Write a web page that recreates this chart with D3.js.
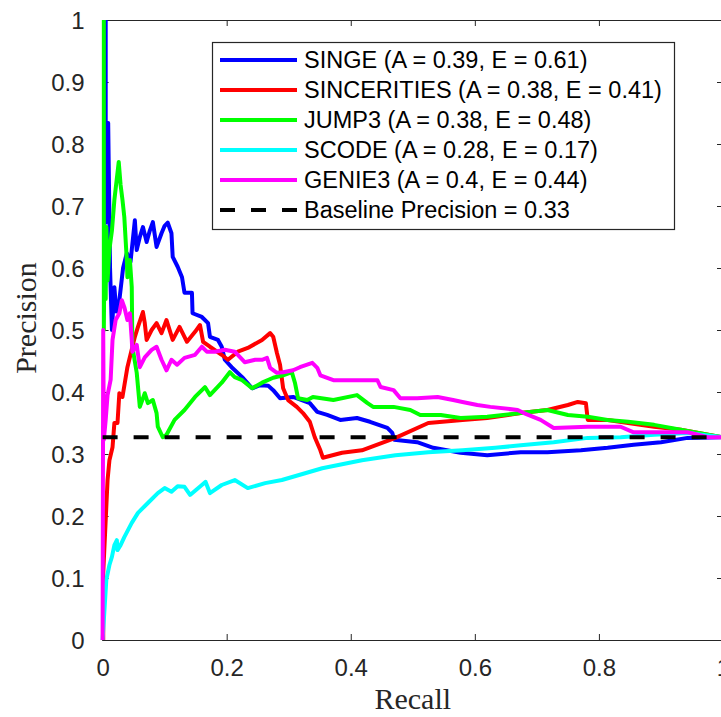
<!DOCTYPE html>
<html>
<head>
<meta charset="utf-8">
<script src="https://cdn.jsdelivr.net/npm/d3@7"></script>
<style>
  body { margin: 0; background: #fff; }
  svg { display: block; }
</style>
</head>
<body>
<div id="chart"></div>
<script>
// precision-recall points, [recall, precision]
var singe = [[0.005,1.0],[0.005,0.673],[0.009,0.834],[0.012,0.6],[0.015,0.5],[0.019,0.569],[0.022,0.53],[0.027,0.548],
  [0.033,0.6],[0.039,0.624],[0.045,0.61],[0.052,0.677],[0.055,0.629],[0.06,0.65],[0.065,0.666],[0.071,0.642],[0.076,0.66],
  [0.081,0.674],[0.087,0.634],[0.095,0.656],[0.1,0.668],[0.105,0.673],[0.111,0.656],[0.113,0.618],[0.121,0.602],
  [0.128,0.585],[0.132,0.56],[0.144,0.56],[0.145,0.527],[0.16,0.521],[0.17,0.511],[0.173,0.489],[0.186,0.484],
  [0.192,0.473],[0.197,0.452],[0.208,0.44],[0.225,0.424],[0.241,0.406],[0.254,0.411],[0.267,0.41],[0.275,0.403],
  [0.286,0.39],[0.307,0.392],[0.334,0.382],[0.346,0.368],[0.362,0.363],[0.383,0.355],[0.41,0.358],[0.431,0.352],
  [0.459,0.342],[0.467,0.334],[0.47,0.323],[0.507,0.319],[0.533,0.31],[0.577,0.302],[0.62,0.298],[0.674,0.303],
  [0.717,0.303],[0.771,0.306],[0.814,0.31],[0.856,0.315],[0.9,0.319],[0.943,0.326],[1.0,0.327]];

var sincerities = [[0.001,0.0],[0.001,0.108],[0.008,0.258],[0.011,0.29],[0.016,0.311],[0.019,0.35],[0.024,0.35],
  [0.027,0.398],[0.032,0.392],[0.04,0.44],[0.052,0.489],[0.057,0.505],[0.065,0.529],[0.068,0.511],[0.071,0.484],
  [0.079,0.5],[0.087,0.511],[0.095,0.495],[0.103,0.516],[0.113,0.484],[0.124,0.505],[0.136,0.481],[0.149,0.497],
  [0.157,0.508],[0.162,0.481],[0.173,0.473],[0.192,0.46],[0.202,0.452],[0.218,0.465],[0.234,0.471],[0.257,0.484],
  [0.27,0.495],[0.275,0.489],[0.281,0.463],[0.286,0.444],[0.291,0.406],[0.299,0.387],[0.313,0.376],[0.323,0.366],
  [0.334,0.352],[0.342,0.327],[0.351,0.306],[0.355,0.294],[0.386,0.302],[0.418,0.306],[0.472,0.326],[0.525,0.35],
  [0.58,0.355],[0.62,0.358],[0.674,0.366],[0.717,0.371],[0.75,0.379],[0.766,0.384],[0.779,0.382],[0.782,0.355],
  [0.814,0.355],[0.847,0.35],[0.889,0.344],[0.932,0.339],[0.976,0.331],[1.0,0.327]];

var jump3 = [[0.002,1.0],[0.002,0.5],[0.003,0.63],[0.005,0.55],[0.006,0.666],[0.008,0.58],[0.011,0.63],[0.015,0.66],
  [0.019,0.71],[0.026,0.771],[0.029,0.734],[0.032,0.71],[0.035,0.682],[0.039,0.613],[0.04,0.585],[0.044,0.613],
  [0.047,0.569],[0.048,0.473],[0.055,0.431],[0.06,0.376],[0.068,0.398],[0.073,0.382],[0.081,0.387],[0.087,0.366],
  [0.089,0.344],[0.097,0.327],[0.103,0.331],[0.116,0.355],[0.132,0.371],[0.149,0.392],[0.165,0.408],[0.173,0.395],
  [0.192,0.415],[0.205,0.432],[0.213,0.424],[0.225,0.419],[0.241,0.406],[0.257,0.415],[0.275,0.423],[0.291,0.427],
  [0.305,0.432],[0.31,0.415],[0.315,0.39],[0.33,0.387],[0.339,0.392],[0.372,0.387],[0.41,0.395],[0.427,0.382],
  [0.436,0.376],[0.469,0.376],[0.496,0.371],[0.512,0.363],[0.545,0.363],[0.577,0.358],[0.62,0.36],[0.674,0.366],
  [0.717,0.371],[0.75,0.363],[0.782,0.36],[0.814,0.355],[0.847,0.352],[0.889,0.347],[0.932,0.339],[0.976,0.331],
  [1.0,0.327]];

var scode = [[0.0,0.0],[0.003,0.048],[0.006,0.097],[0.011,0.121],[0.015,0.134],[0.019,0.153],[0.023,0.161],
  [0.024,0.145],[0.029,0.153],[0.035,0.166],[0.047,0.189],[0.057,0.205],[0.073,0.221],[0.089,0.237],[0.1,0.245],
  [0.111,0.239],[0.121,0.248],[0.132,0.247],[0.141,0.234],[0.16,0.25],[0.166,0.255],[0.173,0.237],[0.192,0.25],
  [0.213,0.258],[0.234,0.245],[0.262,0.253],[0.289,0.258],[0.354,0.277],[0.418,0.29],[0.472,0.298],[0.525,0.303],
  [0.58,0.306],[0.633,0.31],[0.674,0.314],[0.727,0.319],[0.782,0.326],[0.835,0.327],[0.889,0.331],[0.943,0.334],
  [1.0,0.327]];

var genie3 = [[0.0,0.0],[0.001,0.5],[0.002,0.323],[0.005,0.355],[0.008,0.395],[0.013,0.42],[0.016,0.484],
  [0.021,0.516],[0.027,0.527],[0.031,0.548],[0.035,0.537],[0.04,0.516],[0.044,0.527],[0.047,0.484],[0.048,0.465],
  [0.055,0.476],[0.06,0.44],[0.068,0.456],[0.079,0.468],[0.087,0.473],[0.095,0.452],[0.103,0.435],[0.111,0.452],
  [0.12,0.444],[0.132,0.455],[0.149,0.46],[0.16,0.473],[0.168,0.465],[0.181,0.465],[0.197,0.468],[0.213,0.465],
  [0.229,0.448],[0.246,0.452],[0.257,0.452],[0.265,0.455],[0.27,0.439],[0.281,0.431],[0.291,0.432],[0.307,0.435],
  [0.318,0.44],[0.338,0.447],[0.346,0.439],[0.351,0.427],[0.372,0.419],[0.399,0.419],[0.443,0.419],[0.448,0.408],
  [0.469,0.403],[0.48,0.39],[0.507,0.39],[0.54,0.392],[0.565,0.387],[0.58,0.384],[0.604,0.379],[0.625,0.376],
  [0.669,0.371],[0.679,0.366],[0.706,0.355],[0.727,0.342],[0.782,0.344],[0.835,0.344],[0.856,0.335],[0.943,0.335],
  [0.976,0.327],[1.0,0.327]];

var baseline = 0.327;

var names = ["SINGE (A = 0.39, E = 0.61)", "SINCERITIES (A = 0.38, E = 0.41)", "JUMP3 (A = 0.38, E = 0.48)",
  "SCODE (A = 0.28, E = 0.17)", "GENIE3 (A = 0.4, E = 0.44)"];
var baselineLabel = "Baseline Precision = 0.33";
var colors = ["#0000ff", "#ff0000", "#00ff00", "#00ffff", "#ff00ff"];
var series = [singe, sincerities, jump3, scode, genie3];

var xTicks = [0, 0.2, 0.4, 0.6, 0.8, 1];
var yTicks = [0, 0.1, 0.2, 0.3, 0.4, 0.5, 0.6, 0.7, 0.8, 0.9, 1];

var width = 721, height = 717;
var plotL = 102.6, plotR = 723, plotT = 20, plotB = 640;

var svg = d3.select("#chart").append("svg")
    .attr("width", width)
    .attr("height", height);

var x = d3.scaleLinear().domain([0, 1]).range([plotL, plotR]);
var y = d3.scaleLinear().domain([0, 1]).range([plotB, plotT]);

var axisColor = "#262626";
var tickFont = "'Liberation Sans', Arial, Helvetica, sans-serif";

// box axes, ticks pointing inside
var xAxis = svg.append("g")
    .attr("transform", "translate(0," + plotB + ")")
    .call(d3.axisBottom(x).tickValues(xTicks).tickSize(-6).tickPadding(14)
      .tickFormat(function (d) { return d3.format("")(d); }));
var yAxis = svg.append("g")
    .attr("transform", "translate(" + plotL + ",0)")
    .call(d3.axisLeft(y).tickValues(yTicks).tickSize(-6).tickPadding(18)
      .tickFormat(function (d) { return d3.format("")(d); }));
var xTop = svg.append("g")
    .attr("transform", "translate(0," + plotT + ")")
    .call(d3.axisTop(x).tickValues(xTicks).tickSize(-6).tickFormat(""));
var yRight = svg.append("g")
    .attr("transform", "translate(" + plotR + ",0)")
    .call(d3.axisRight(y).tickValues(yTicks).tickSize(-6).tickFormat(""));

[xAxis, yAxis, xTop, yRight].forEach(function (g) {
  g.select(".domain").attr("stroke", axisColor).attr("stroke-width", 1.2);
  g.selectAll(".tick line").attr("stroke", axisColor).attr("stroke-width", 1);
  g.selectAll(".tick text").attr("fill", axisColor)
    .style("font-family", tickFont).style("font-size", "24px");
});
xAxis.selectAll(".tick text").attr("dy", "0.9em");
yAxis.selectAll(".tick text").attr("dy", "0.36em");

// curves
var line = d3.line()
    .x(function (d) { return x(d[0]); })
    .y(function (d) { return y(d[1]); });

svg.append("defs").append("clipPath").attr("id", "plotclip")
  .append("rect").attr("x", plotL - 3).attr("y", plotT - 3)
  .attr("width", plotR - plotL + 6).attr("height", plotB - plotT + 6);

var plot = svg.append("g").attr("clip-path", "url(#plotclip)");

plot.selectAll(".curve")
    .data(series)
    .enter().append("path")
    .attr("class", "curve")
    .attr("d", line)
    .attr("fill", "none")
    .attr("stroke", function (d, i) { return colors[i]; })
    .attr("stroke-width", 4)
    .attr("stroke-linejoin", "round");

plot.append("line")
    .attr("x1", x(0)).attr("x2", x(1))
    .attr("y1", y(baseline)).attr("y2", y(baseline))
    .attr("stroke", "#000")
    .attr("stroke-width", 4)
    .attr("stroke-dasharray", "15,16");

// legend
var legend = svg.append("g");
legend.append("rect")
    .attr("x", 212.5).attr("y", 42.5)
    .attr("width", 462).attr("height", 187)
    .attr("fill", "#fff")
    .attr("stroke", axisColor)
    .attr("stroke-width", 1.2);

var rows = names.concat([baselineLabel]);
var rowColors = colors.concat(["#000"]);
rows.forEach(function (name, i) {
  var ry = 60 + i * 30;
  legend.append("line")
      .attr("x1", 220).attr("x2", 297)
      .attr("y1", ry).attr("y2", ry)
      .attr("stroke", rowColors[i])
      .attr("stroke-width", 4)
      .attr("stroke-dasharray", i === 5 ? "15,16" : null);
  legend.append("text")
      .attr("x", 304).attr("y", ry)
      .attr("dy", "0.36em")
      .attr("fill", "#000")
      .style("font-family", tickFont)
      .style("font-size", "23.5px")
      .text(name);
});

// axis titles
svg.append("text")
    .attr("x", (plotL + plotR) / 2)
    .attr("y", 709)
    .attr("text-anchor", "middle")
    .attr("fill", axisColor)
    .style("font-family", "'Liberation Serif', 'Times New Roman', serif")
    .style("font-size", "30px")
    .text("Recall");

svg.append("text")
    .attr("transform", "translate(36,318) rotate(-90)")
    .attr("text-anchor", "middle")
    .attr("fill", axisColor)
    .style("font-family", "'Liberation Serif', 'Times New Roman', serif")
    .style("font-size", "30px")
    .text("Precision");
</script>
</body>
</html>
